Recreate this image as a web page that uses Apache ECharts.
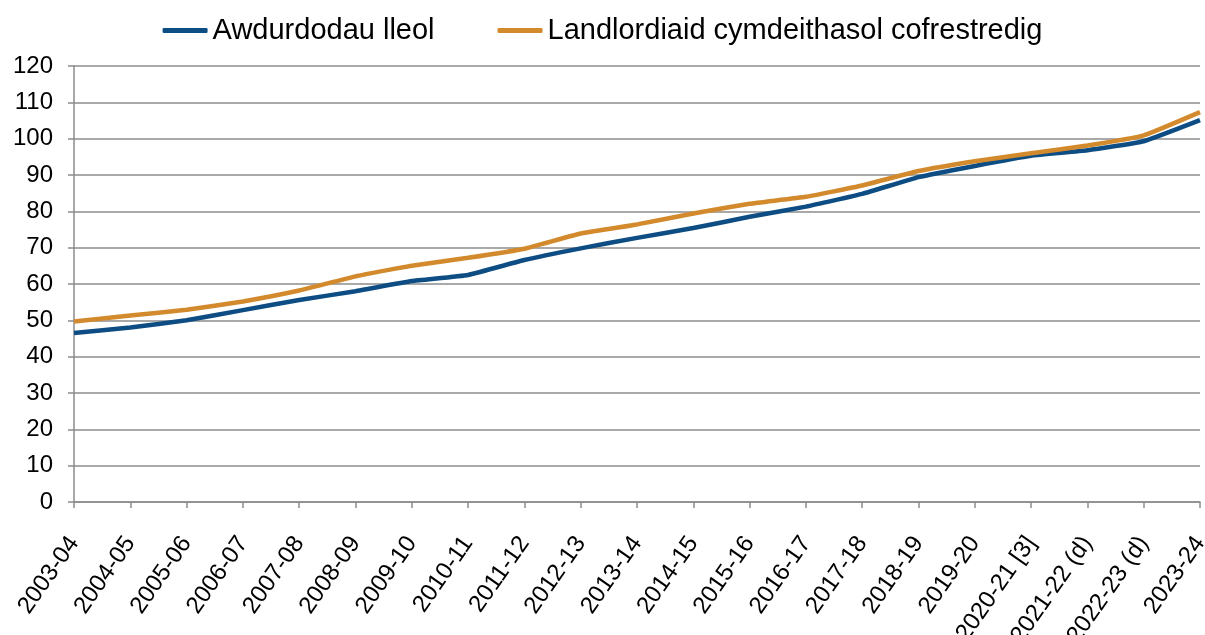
<!DOCTYPE html>
<html>
<head>
<meta charset="utf-8">
<script src="https://cdn.jsdelivr.net/npm/echarts@6/dist/echarts.min.js"></script>
<style>html,body{margin:0;padding:0;background:#fff;}#c{width:1205px;height:635px;}</style>
</head>
<body>
<div id="c"></div>
<script>
const categories = ['2003-04','2004-05','2005-06','2006-07','2007-08','2008-09','2009-10','2010-11','2011-12','2012-13','2013-14','2014-15','2015-16','2016-17','2017-18','2018-19','2019-20','2020-21 [3]','2021-22 (d)','2022-23 (d)','2023-24'];
const localAuthorities = [46.5, 48.0, 50.0, 52.8, 55.6, 58.0, 60.8, 62.5, 66.6, 69.8, 72.7, 75.4, 78.5, 81.3, 84.8, 89.4, 92.5, 95.3, 96.8, 99.3, 105.1];
const rsl = [49.7, 51.3, 52.9, 55.2, 58.2, 62.1, 65.0, 67.2, 69.7, 73.9, 76.4, 79.4, 82.1, 84.0, 87.1, 91.1, 93.8, 96.0, 98.1, 100.9, 107.3];
const seriesNames = ['Awdurdodau lleol', 'Landlordiaid cymdeithasol cofrestredig'];
const yTicks = {min: 0, max: 120, interval: 10};

const chart = echarts.init(document.getElementById('c'));
const font = 'Liberation Sans, Arial, sans-serif';
chart.setOption({
  animation: false,
  textStyle: {fontFamily: font},
  legend: {
    top: 11, left: 'center',
    itemWidth: 45, itemHeight: 5, itemGap: 63, icon: 'roundRect',
    textStyle: {fontSize: 29, color: '#000', fontFamily: font},
    data: seriesNames
  },
  grid: {left: 74, right: 5, top: 66, bottom: 133, containLabel: false, outerBoundsMode: 'none'},
  xAxis: {
    type: 'category', data: categories, boundaryGap: false,
    axisLine: {lineStyle: {color: '#8c8c8c', width: 1.5}},
    axisTick: {show: true, length: 6, interval: 0, lineStyle: {color: '#8c8c8c', width: 1.5}},
    axisLabel: {rotate: 55, interval: 0, fontSize: 24, color: '#000', margin: 37, fontFamily: font}
  },
  yAxis: {
    type: 'value', min: yTicks.min, max: yTicks.max, interval: yTicks.interval,
    axisLine: {show: true, lineStyle: {color: '#8c8c8c', width: 1.5}},
    axisTick: {show: true, length: 6, lineStyle: {color: '#8c8c8c', width: 1.5}},
    axisLabel: {fontSize: 24, color: '#000', margin: 21, fontFamily: font},
    splitLine: {lineStyle: {color: '#8c8c8c', width: 1.5}}
  },
  series: [
    {name: seriesNames[0], type: 'line', data: localAuthorities, smooth: 0.12, symbol: 'none',
     lineStyle: {width: 4.5, color: '#0d4d84'}, itemStyle: {color: '#0d4d84'}},
    {name: seriesNames[1], type: 'line', data: rsl, smooth: 0.12, symbol: 'none',
     lineStyle: {width: 4.5, color: '#d28a2d'}, itemStyle: {color: '#d28a2d'}}
  ]
});
</script>
</body>
</html>
